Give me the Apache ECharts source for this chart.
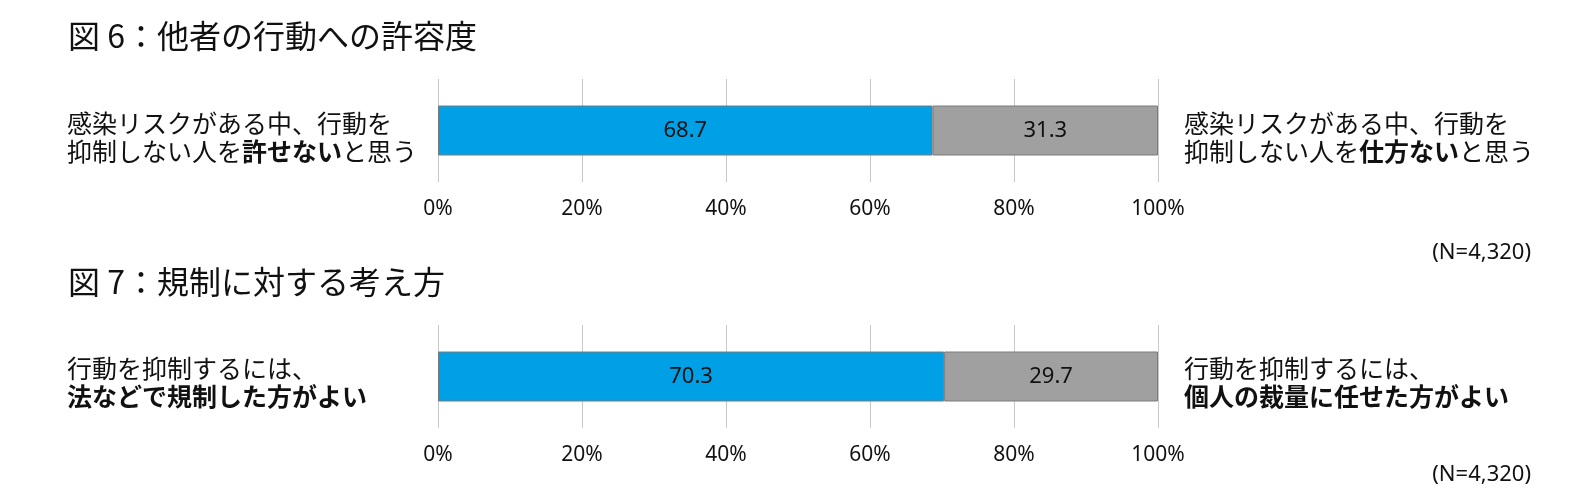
<!DOCTYPE html>
<html>
<head>
<meta charset="utf-8">
<script src="https://cdn.jsdelivr.net/npm/echarts@6/dist/echarts.min.js"></script>
<style>
html,body{margin:0;padding:0;background:#fff;}
#chart{width:1576px;height:500px;}
</style>
</head>
<body>
<div id="chart"></div>
<script>
// ---- data ----
const categories = ['回答'];
const fig6Left = [68.7];   // 許せない
const fig6Right = [31.3];  // 仕方ない
const fig7Left = [70.3];   // 法などで規制
const fig7Right = [29.7];  // 個人の裁量
const tickValues = [0, 20, 40, 60, 80, 100];
const sampleNote = '(N=4,320)';

const titles = ['図 6：他者の行動への許容度', '図 7：規制に対する考え方'];

const JP = "'Noto Sans CJK JP', 'Noto Sans', sans-serif";
const NUM = "'Noto Sans', 'Noto Sans CJK JP', sans-serif";
const BLUE = '#00A0E6';
const GRAY = '#A0A0A0';
const BORDER = '#7a7a7a';

const chart = echarts.init(document.getElementById('chart'));

const richLabel = {
  n: { fontFamily: JP, fontSize: 25, color: '#111', fontWeight: 'normal', lineHeight: 28 },
  b: { fontFamily: JP, fontSize: 25, color: '#111', fontWeight: 'bold', lineHeight: 28 }
};

function xAxisFor(gridIndex) {
  return {
    type: 'value', gridIndex: gridIndex, min: 0, max: 100, interval: 20,
    axisLine: { show: false }, axisTick: { show: false },
    splitLine: { show: true, lineStyle: { color: '#c8c8c8', width: 1 } },
    axisLabel: {
      formatter: function (v) { return tickValues.indexOf(v) >= 0 ? v + '%' : ''; },
      margin: 17, color: '#111', fontSize: 21, fontFamily: NUM
    }
  };
}
function yAxisFor(gridIndex) {
  return {
    type: 'category', gridIndex: gridIndex, data: categories,
    axisLine: { show: false }, axisTick: { show: false }, axisLabel: { show: false },
    splitLine: { show: false }
  };
}
function barSeries(data, color, axisIdx, stack) {
  return {
    type: 'bar', xAxisIndex: axisIdx, yAxisIndex: axisIdx, stack: stack,
    data: data, barWidth: 50,
    itemStyle: { color: color, borderColor: BORDER, borderWidth: 1 },
    label: {
      show: true, position: 'inside', color: '#111', fontSize: 22, fontFamily: NUM,
      formatter: function (p) { return p.value.toFixed(1); }
    },
    emphasis: { disabled: true }
  };
}

chart.setOption({
  animation: false,
  title: [
    { text: titles[0], left: 63, top: 15, textStyle: { fontFamily: JP, fontSize: 32, fontWeight: 'normal', color: '#111' } },
    { text: titles[1], left: 63, top: 261, textStyle: { fontFamily: JP, fontSize: 32, fontWeight: 'normal', color: '#111' } },
    { text: '{n|感染リスクがある中、行動を}\n{n|抑制しない人を}{b|許せない}{n|と思う}', left: 62, top: 104,
      textStyle: { rich: richLabel } },
    { text: '{n|感染リスクがある中、行動を}\n{n|抑制しない人を}{b|仕方ない}{n|と思う}', left: 1179, top: 104,
      textStyle: { rich: richLabel } },
    { text: '{n|行動を抑制するには、}\n{b|法などで規制した方がよい}', left: 62, top: 349,
      textStyle: { rich: richLabel } },
    { text: '{n|行動を抑制するには、}\n{b|個人の裁量に任せた方がよい}', left: 1179, top: 349,
      textStyle: { rich: richLabel } },
    { text: sampleNote, right: 40, top: 237, textStyle: { fontFamily: NUM, fontSize: 22, fontWeight: 'normal', color: '#111' } },
    { text: sampleNote, right: 40, top: 459, textStyle: { fontFamily: NUM, fontSize: 22, fontWeight: 'normal', color: '#111' } }
  ],
  grid: [
    { left: 438, width: 720, top: 79, height: 103 },
    { left: 438, width: 720, top: 325, height: 103 }
  ],
  xAxis: [xAxisFor(0), xAxisFor(1)],
  yAxis: [yAxisFor(0), yAxisFor(1)],
  series: [
    barSeries(fig6Left, BLUE, 0, 'f6'),
    barSeries(fig6Right, GRAY, 0, 'f6'),
    barSeries(fig7Left, BLUE, 1, 'f7'),
    barSeries(fig7Right, GRAY, 1, 'f7')
  ]
});
</script>
</body>
</html>
